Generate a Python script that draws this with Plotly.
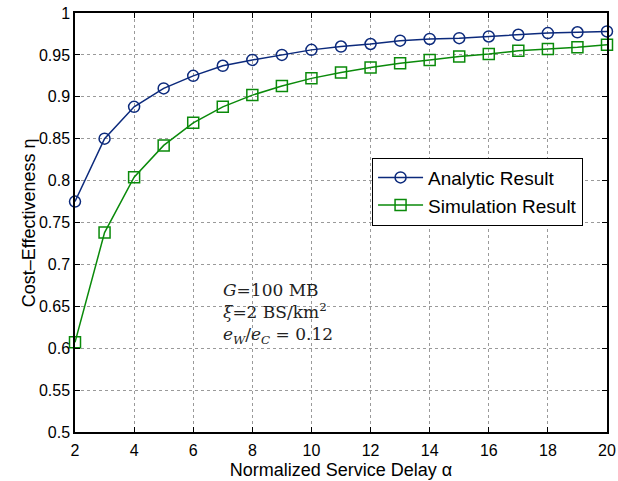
import plotly.graph_objects as go

alpha = list(range(2, 21))
analytic = [0.775, 0.850, 0.888, 0.910, 0.925, 0.937, 0.944, 0.950, 0.956, 0.960,
            0.963, 0.967, 0.969, 0.970, 0.972, 0.974, 0.976, 0.977, 0.978]
simulation = [0.607, 0.738, 0.804, 0.842, 0.869, 0.888, 0.902, 0.913, 0.922, 0.929,
              0.935, 0.940, 0.944, 0.948, 0.951, 0.955, 0.957, 0.959, 0.962]
y_ticks = [0.5, 0.55, 0.6, 0.65, 0.7, 0.75, 0.8, 0.85, 0.9, 0.95, 1]
y_tick_text = ["0.5", "0.55", "0.6", "0.65", "0.7", "0.75", "0.8", "0.85", "0.9", "0.95", "1"]
x_ticks = list(range(2, 21, 2))

BLUE = "#0c2a7c"
GREEN = "#0a8a0a"
FONT = "Liberation Sans, Arial, sans-serif"

fig = go.Figure()
fig.add_trace(go.Scatter(
    x=alpha, y=analytic, mode="lines+markers", name="Analytic Result",
    line=dict(color=BLUE, width=1.5),
    marker=dict(symbol="circle-open", size=11, color=BLUE, line=dict(width=1.5)),
    cliponaxis=False,
))
fig.add_trace(go.Scatter(
    x=alpha, y=simulation, mode="lines+markers", name="Simulation Result",
    line=dict(color=GREEN, width=1.5),
    marker=dict(symbol="square-open", size=11, color=GREEN, line=dict(width=1.5)),
    cliponaxis=False,
))

axis_common = dict(
    showline=True, linecolor="black", linewidth=1.5, mirror="ticks",
    ticks="inside", ticklen=5, tickcolor="black", tickwidth=1,
    showgrid=True, gridcolor="#9a9a9a", griddash="dot", gridwidth=1,
    zeroline=False, tickfont=dict(family=FONT, size=16, color="black"),
    ticklabeloverflow="allow",
)

fig.update_xaxes(range=[2, 20], tickvals=x_ticks, ticklabelstandoff=3,
                 title=dict(text="Normalized Service Delay α", font=dict(family=FONT, size=18, color="black"), standoff=5),
                 **axis_common)
fig.update_yaxes(range=[0.5, 1], tickvals=y_ticks, ticktext=y_tick_text,
                 **axis_common)

# y-axis title placed as rotated text
fig.add_annotation(
    xref="paper", yref="paper", x=-0.087, y=0.5, xanchor="center", yanchor="middle",
    textangle=-90, showarrow=False, text="Cost–Effectiveness η",
    font=dict(family=FONT, size=18, color="black"),
)

fig.add_annotation(
    xref="paper", yref="paper", x=0.275, y=0.368, xanchor="left", yanchor="top",
    align="left", showarrow=False,
    text=("<i>G</i>=100 MB<br><i>ξ</i>=2 BS/km<sup>2</sup><br>"
          "<i>e<sub>W</sub></i>/<i>e<sub>C</sub></i> = 0.12"),
    font=dict(family="DejaVu Serif, Liberation Serif, serif", size=17, color="#222"),
)

fig.update_layout(
    width=618, height=481,
    margin=dict(l=75, r=2, t=13, b=49),
    paper_bgcolor="white", plot_bgcolor="white",
    legend=dict(x=0.955, y=0.655, xanchor="right", yanchor="top",
                bordercolor="black", borderwidth=1, bgcolor="white",
                font=dict(family=FONT, size=19, color="black"),
                tracegroupgap=0, itemwidth=45),
    showlegend=True,
)

fig.write_html("out.html", config={"displayModeBar": False},
               post_script="document.body.style.margin='0';document.body.style.padding='0';")
